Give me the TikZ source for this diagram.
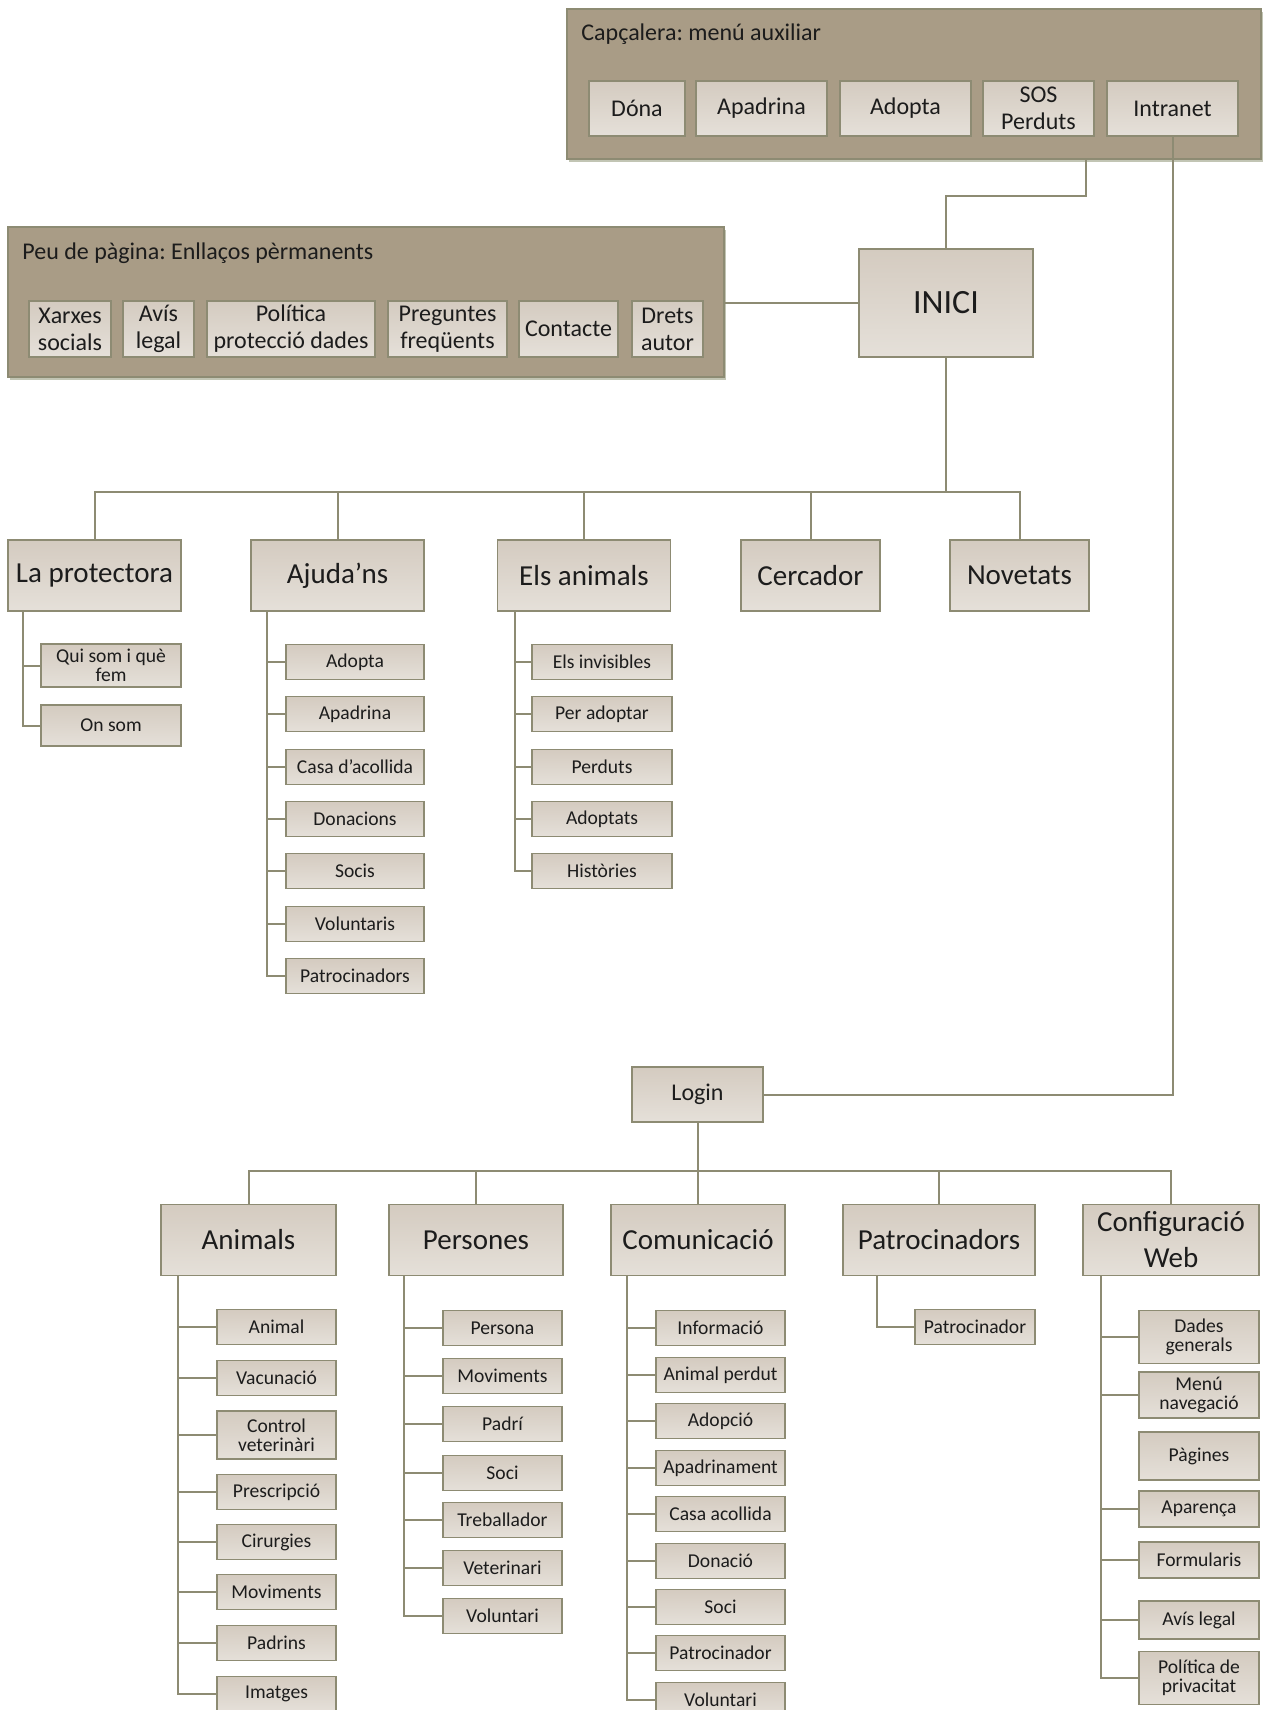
\documentclass[tikz,border=0pt]{standalone}
\usepackage{fontspec}
\setmainfont{Carlito}
\frenchspacing
\usetikzlibrary{shadows}
\definecolor{contfill}{HTML}{A99C86}
\definecolor{linec}{HTML}{8D8B73}
\definecolor{boxtop}{HTML}{D4CBC0}
\definecolor{boxbot}{HTML}{E5E0D9}
\definecolor{shadowc}{HTML}{C2C5B4}
\definecolor{textc}{HTML}{1C1C1C}
\begin{document}
\begin{tikzpicture}[x=0.5pt, y=-0.5pt, text=textc]
\useasboundingbox[fill=white] (0,0) rectangle (1263,1710);

% contenidors
\begin{scope}[every node/.style = {draw=linec, line width=0.8pt, fill=contfill, drop shadow={shadow xshift=1.2pt, shadow yshift=-1.5pt, fill=shadowc, opacity=1}}]
    \node[minimum width=347pt, minimum height=75pt](cap) at (914,84) {};
    \node[minimum width=358pt, minimum height=75pt](peu) at (366,302) {};
\end{scope}
\begin{scope}[every node/.style = {anchor=west, inner sep=0pt, font=\fontsize{12}{14}\selectfont}]
    \node(capt) at (581,34) {Capçalera: menú auxiliar};
    \node(peut) at (22,253) {Peu de pàgina: Enllaços pèrmanents};
\end{scope}

% menu auxiliar i enllacos
\begin{scope}[every node/.style = {draw=linec, line width=0.8pt, top color=boxtop, bottom color=boxbot, inner sep=0pt, align=center, font=\fontsize{12}{13.5}\selectfont}]
    \node[minimum width=48pt, minimum height=27.5pt](h1) at (637,108.5) {Dóna};
    \node[minimum width=65.5pt, minimum height=27.5pt](h2) at (761.5,108.5) {Apadrina};
    \node[minimum width=65.5pt, minimum height=27.5pt](h3) at (905.5,108.5) {Adopta};
    \node[minimum width=55.5pt, minimum height=27.5pt](h4) at (1038.5,108.5) {SOS\\Perduts};
    \node[minimum width=65.5pt, minimum height=27.5pt](h5) at (1172.5,108.5) {Intranet};
    \node[minimum width=41pt, minimum height=28pt](f1) at (70,329) {Xarxes\\socials};
    \node[minimum width=35.5pt, minimum height=28pt](f2) at (158.5,329) {Avís\\legal};
    \node[minimum width=84pt, minimum height=28pt](f3) at (291,329) {Política\\protecció dades};
    \node[minimum width=59.5pt, minimum height=28pt](f4) at (447.5,329) {Preguntes\\freqüents};
    \node[minimum width=49.5pt, minimum height=28pt](f5) at (568.5,329) {Contacte};
    \node[minimum width=35.5pt, minimum height=28pt](f6) at (667.5,329) {Drets\\autor};
\end{scope}

% INICI i Login
\begin{scope}[every node/.style = {draw=linec, line width=0.8pt, top color=boxtop, bottom color=boxbot, inner sep=0pt}]
    \node[minimum width=87pt, minimum height=54pt, font=\fontsize{17}{20}\selectfont](inici) at (946,303) {INICI};
    \node[minimum width=65.5pt, minimum height=27.5pt, font=\fontsize{12}{14}\selectfont](login) at (697.5,1094.5) {Login};
\end{scope}

% seccions
\begin{scope}[every node/.style = {draw=linec, line width=0.8pt, top color=boxtop, bottom color=boxbot, inner sep=0pt, align=center, minimum height=35.5pt, font=\fontsize{14.5}{18}\selectfont}]
    \node[minimum width=86.5pt](a1) at (94.5,575.5) {La protectora};
    \node[minimum width=86.5pt](a2) at (337.5,575.5) {Ajuda’ns};
    \node[minimum width=86.5pt](a3) at (584,575.5) {Els animals};
    \node[minimum width=69.5pt](a4) at (810.5,575.5) {Cercador};
    \node[minimum width=69.5pt](a5) at (1019.5,575.5) {Novetats};
    \node[minimum width=87.5pt](b1) at (248.5,1240) {Animals};
    \node[minimum width=87pt](b2) at (476,1240) {Persones};
    \node[minimum width=87pt](b3) at (698,1240) {Comunicació};
    \node[minimum width=96pt](b4) at (939,1240) {Patrocinadors};
    \node[minimum width=88pt](b5) at (1171,1240) {Configuració\\Web};
\end{scope}

% pagines
\begin{scope}[every node/.style = {draw=linec, line width=0.8pt, top color=boxtop, bottom color=boxbot, inner sep=0pt, align=center, minimum height=17.5pt, font=\fontsize{9.8}{9.3}\selectfont}]
    \node[minimum width=70pt, minimum height=21.5pt](a11) at (111,665.5) {Qui som i què\\fem};
    \node[minimum width=70pt, minimum height=20.5pt](a12) at (111,725.5) {On som};

    \node[minimum width=69pt](a21) at (355,662) {Adopta};
    \node[minimum width=69pt](a22) at (355,714) {Apadrina};
    \node[minimum width=69pt](a23) at (355,767) {Casa d’acollida};
    \node[minimum width=69pt](a24) at (355,819) {Donacions};
    \node[minimum width=69pt](a25) at (355,871) {Socis};
    \node[minimum width=69pt](a26) at (355,924) {Voluntaris};
    \node[minimum width=69pt](a27) at (355,976) {Patrocinadors};

    \node[minimum width=70pt](a31) at (602,662) {Els invisibles};
    \node[minimum width=70pt](a32) at (602,714) {Per adoptar};
    \node[minimum width=70pt](a33) at (602,767) {Perduts};
    \node[minimum width=70pt](a34) at (602,819) {Adoptats};
    \node[minimum width=70pt](a35) at (602,871) {Històries};

    \node[minimum width=59.5pt](b11) at (276.5,1327) {Animal};
    \node[minimum width=59.5pt](b12) at (276.5,1378) {Vacunació};
    \node[minimum width=59.5pt, minimum height=24pt](b13) at (276.5,1435) {Control\\veterinàri};
    \node[minimum width=59.5pt](b14) at (276.5,1492) {Prescripció};
    \node[minimum width=59.5pt](b15) at (276.5,1542) {Cirurgies};
    \node[minimum width=59.5pt](b16) at (276.5,1592) {Moviments};
    \node[minimum width=59.5pt](b17) at (276.5,1643) {Padrins};
    \node[minimum width=59.5pt](b18) at (276.5,1694) {Imatges};

    \node[minimum width=59.5pt](b21) at (502.5,1328) {Persona};
    \node[minimum width=59.5pt](b22) at (502.5,1376) {Moviments};
    \node[minimum width=59.5pt](b23) at (502.5,1424) {Padrí};
    \node[minimum width=59.5pt](b24) at (502.5,1473) {Soci};
    \node[minimum width=59.5pt](b25) at (502.5,1520) {Treballador};
    \node[minimum width=59.5pt](b26) at (502.5,1568) {Veterinari};
    \node[minimum width=59.5pt](b27) at (502.5,1616) {Voluntari};

    \node[minimum width=64.5pt](b31) at (720.5,1328) {Informació};
    \node[minimum width=64.5pt](b32) at (720.5,1375) {Animal perdut};
    \node[minimum width=64.5pt](b33) at (720.5,1421) {Adopció};
    \node[minimum width=64.5pt](b34) at (720.5,1468) {Apadrinament};
    \node[minimum width=64.5pt](b35) at (720.5,1514) {Casa acollida};
    \node[minimum width=64.5pt](b36) at (720.5,1561) {Donació};
    \node[minimum width=64.5pt](b37) at (720.5,1607) {Soci};
    \node[minimum width=64.5pt](b38) at (720.5,1653) {Patrocinador};
    \node[minimum width=64.5pt](b39) at (720.5,1700) {Voluntari};

    \node[minimum width=60pt](b41) at (975,1327) {Patrocinador};

    \node[minimum width=60pt, minimum height=26.5pt](b51) at (1199,1337) {Dades\\generals};
    \node[minimum width=60pt, minimum height=23pt](b52) at (1199,1395) {Menú\\navegació};
    \node[minimum width=60pt, minimum height=24pt](b53) at (1199,1456) {Pàgines};
    \node[minimum width=60pt, minimum height=18pt](b54) at (1199,1509) {Aparença};
    \node[minimum width=60pt, minimum height=18pt](b55) at (1199,1560) {Formularis};
    \node[minimum width=60pt, minimum height=19pt](b56) at (1199,1620) {Avís legal};
    \node[minimum width=60pt, minimum height=26.5pt](b57) at (1199,1678) {Política de\\privacitat};
\end{scope}

% enllacos entre caixes
\coordinate(capsor) at (1086,159);
\coordinate(bus1) at ([yshift=-67pt]inici.south);
\coordinate(bus2) at ([yshift=-24pt]login.south);
\begin{scope}[every edge/.style = {draw=linec, line width=1pt}]
    \path(capsor) edge[to path={-- ++(0,-18.5pt) -| (\tikztotarget)}] (inici.north);
    \path(h5.south) edge[to path={|- (\tikztotarget)}] (login.east);
    \path(inici.west) edge[] (inici.west -| peu.east);
    \path(inici.south) edge[] (bus1);
    \path(login.south) edge[] (bus2);
\end{scope}

\begin{scope}[every edge/.style = {draw=linec, line width=1pt, to path={-| (\tikztotarget)}}]
    \path(bus1) edge[] (a1.north);
    \path(bus1) edge[] (a2.north);
    \path(bus1) edge[] (a3.north);
    \path(bus1) edge[] (a4.north);
    \path(bus1) edge[] (a5.north);
    \path(bus2) edge[] (b1.north);
    \path(bus2) edge[] (b2.north);
    \path(bus2) edge[] (b3.north);
    \path(bus2) edge[] (b4.north);
    \path(bus2) edge[] (b5.north);
\end{scope}

\begin{scope}[every edge/.style = {draw=linec, line width=1pt, to path={|- (\tikztotarget)}}]
    \path([xshift=8pt]a1.south west) edge[] (a11.west);
    \path([xshift=8pt]a1.south west) edge[] (a12.west);
    \path([xshift=8.5pt]a2.south west) edge[] (a21.west);
    \path([xshift=8.5pt]a2.south west) edge[] (a22.west);
    \path([xshift=8.5pt]a2.south west) edge[] (a23.west);
    \path([xshift=8.5pt]a2.south west) edge[] (a24.west);
    \path([xshift=8.5pt]a2.south west) edge[] (a25.west);
    \path([xshift=8.5pt]a2.south west) edge[] (a26.west);
    \path([xshift=8.5pt]a2.south west) edge[] (a27.west);
    \path([xshift=9pt]a3.south west) edge[] (a31.west);
    \path([xshift=9pt]a3.south west) edge[] (a32.west);
    \path([xshift=9pt]a3.south west) edge[] (a33.west);
    \path([xshift=9pt]a3.south west) edge[] (a34.west);
    \path([xshift=9pt]a3.south west) edge[] (a35.west);
    \path([xshift=9pt]b1.south west) edge[] (b11.west);
    \path([xshift=9pt]b1.south west) edge[] (b12.west);
    \path([xshift=9pt]b1.south west) edge[] (b13.west);
    \path([xshift=9pt]b1.south west) edge[] (b14.west);
    \path([xshift=9pt]b1.south west) edge[] (b15.west);
    \path([xshift=9pt]b1.south west) edge[] (b16.west);
    \path([xshift=9pt]b1.south west) edge[] (b17.west);
    \path([xshift=9pt]b1.south west) edge[] (b18.west);
    \path([xshift=8pt]b2.south west) edge[] (b21.west);
    \path([xshift=8pt]b2.south west) edge[] (b22.west);
    \path([xshift=8pt]b2.south west) edge[] (b23.west);
    \path([xshift=8pt]b2.south west) edge[] (b24.west);
    \path([xshift=8pt]b2.south west) edge[] (b25.west);
    \path([xshift=8pt]b2.south west) edge[] (b26.west);
    \path([xshift=8pt]b2.south west) edge[] (b27.west);
    \path([xshift=8.5pt]b3.south west) edge[] (b31.west);
    \path([xshift=8.5pt]b3.south west) edge[] (b32.west);
    \path([xshift=8.5pt]b3.south west) edge[] (b33.west);
    \path([xshift=8.5pt]b3.south west) edge[] (b34.west);
    \path([xshift=8.5pt]b3.south west) edge[] (b35.west);
    \path([xshift=8.5pt]b3.south west) edge[] (b36.west);
    \path([xshift=8.5pt]b3.south west) edge[] (b37.west);
    \path([xshift=8.5pt]b3.south west) edge[] (b38.west);
    \path([xshift=8.5pt]b3.south west) edge[] (b39.west);
    \path([xshift=17.5pt]b4.south west) edge[] (b41.west);
    \path([xshift=9.5pt]b5.south west) edge[] (b51.west);
    \path([xshift=9.5pt]b5.south west) edge[] (b52.west);
    \path([xshift=9.5pt]b5.south west) edge[] (b54.west);
    \path([xshift=9.5pt]b5.south west) edge[] (b55.west);
    \path([xshift=9.5pt]b5.south west) edge[] (b56.west);
    \path([xshift=9.5pt]b5.south west) edge[] (b57.west);
\end{scope}
\end{tikzpicture}
\end{document}
